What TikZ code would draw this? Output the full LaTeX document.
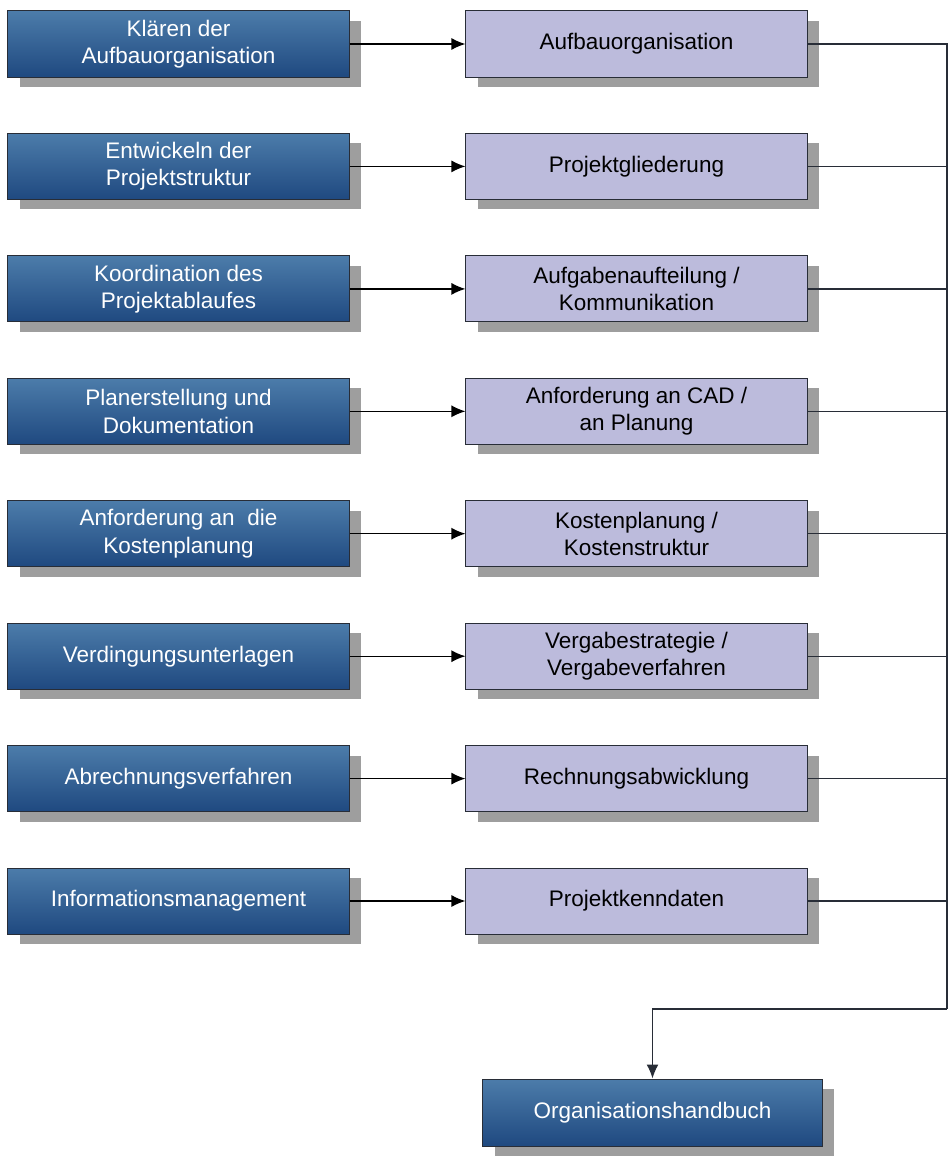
\documentclass[tikz,border=0pt]{standalone}
\usepackage{fontspec}
\setmainfont{Liberation Sans}
\usepackage{xcolor}
\definecolor{boxtop}{RGB}{76,124,170}
\definecolor{boxbot}{RGB}{31,73,128}
\definecolor{lavender}{RGB}{188,187,220}
\definecolor{edge}{RGB}{40,45,55}
\usetikzlibrary{
  arrows.meta,
  positioning,
  shadows
}

\begin{document}
\begin{tikzpicture}[
  x=0.025cm, y=-0.025cm,
  task/.style={rectangle, draw=edge, line width=0.7pt, top color=boxtop, bottom color=boxbot, text=white,
    minimum width=8.525cm, minimum height=1.65cm, align=center, font=\fontsize{16}{19.5}\selectfont,
    drop shadow={shadow xshift=0.3cm, shadow yshift=-0.25cm, fill=black!38, opacity=1}},
  result/.style={task, top color=lavender, bottom color=lavender, text=black},
  arr/.style={-{Latex[length=0.35cm, width=0.3cm]}, line width=1pt, black},
  bus/.style={line width=1pt, edge}
]
  \useasboundingbox (0,0) rectangle (948,1156);

  \node[task] (klaeren) at (178.5,44) {Klären der\\Aufbauorganisation};
  \node[result] (aufbau) at (636.5,44) {Aufbauorganisation};

  \node[task] (entwickeln) at (178.5,166.4) {Entwickeln der\\Projektstruktur};
  \node[result] (gliederung) at (636.5,166.4) {Projektgliederung};

  \node[task] (koord) at (178.5,288.9) {Koordination des\\Projektablaufes};
  \node[result] (aufgaben) at (636.5,288.9) {Aufgabenaufteilung /\\Kommunikation};

  \node[task] (planer) at (178.5,411.3) {Planerstellung und\\Dokumentation};
  \node[result] (cad) at (636.5,411.3) {Anforderung an CAD /\\an Planung};

  \node[task] (anford) at (178.5,533.7) {Anforderung an~ die\\Kostenplanung};
  \node[result] (kosten) at (636.5,533.7) {Kostenplanung /\\Kostenstruktur};

  \node[task] (verding) at (178.5,656.2) {Verdingungsunterlagen};
  \node[result] (vergabe) at (636.5,656.2) {Vergabestrategie /\\Vergabeverfahren};

  \node[task] (abrech) at (178.5,778.6) {Abrechnungsverfahren};
  \node[result] (rechnung) at (636.5,778.6) {Rechnungsabwicklung};

  \node[task] (info) at (178.5,901) {Informationsmanagement};
  \node[result] (kenn) at (636.5,901) {Projektkenndaten};

  \node[task, minimum width=8.475cm, minimum height=1.675cm] (handbuch) at (652.5,1112.5) {Organisationshandbuch};

  \coordinate (bustop) at (947,44);
  \coordinate (busbot) at (947,1009);

  \draw[arr] (klaeren) -- (aufbau);
  \draw[arr] (entwickeln) -- (gliederung);
  \draw[arr] (koord) -- (aufgaben);
  \draw[arr] (planer) -- (cad);
  \draw[arr] (anford) -- (kosten);
  \draw[arr] (verding) -- (vergabe);
  \draw[arr] (abrech) -- (rechnung);
  \draw[arr] (info) -- (kenn);

  \draw[bus] (aufbau.east) -- (bustop) -- (busbot);
  \draw[bus] (gliederung.east) -- (gliederung.east -| bustop);
  \draw[bus] (aufgaben.east) -- (aufgaben.east -| bustop);
  \draw[bus] (cad.east) -- (cad.east -| bustop);
  \draw[bus] (kosten.east) -- (kosten.east -| bustop);
  \draw[bus] (vergabe.east) -- (vergabe.east -| bustop);
  \draw[bus] (rechnung.east) -- (rechnung.east -| bustop);
  \draw[bus] (kenn.east) -- (kenn.east -| bustop);
  \draw[bus, -{Latex[length=0.35cm, width=0.3cm]}] (busbot) -| (handbuch.north);
\end{tikzpicture}
\end{document}
